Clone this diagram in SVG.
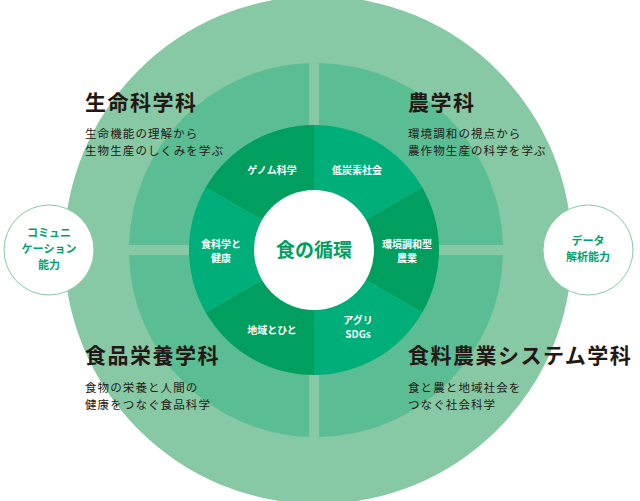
<svg xmlns="http://www.w3.org/2000/svg" width="640" height="501" viewBox="0 0 640 501">
<style>
.h{font-family:"Noto Sans CJK JP",sans-serif;font-weight:700;font-size:21px;fill:#231815;letter-spacing:1.5px}
.d{font-family:"Noto Sans CJK JP",sans-serif;font-size:11.5px;fill:#231815;letter-spacing:1.1px}
.s{font-family:"Noto Sans CJK JP",sans-serif;font-weight:700;font-size:10px;fill:#fff;text-anchor:middle}
.c{font-family:"Noto Sans CJK JP",sans-serif;font-weight:700;font-size:11px;fill:#00a06a;text-anchor:middle}
.dk{fill:#009e5f}.lt{fill:#00ae7a}
</style>
<g id="outer"><circle cx="318" cy="250" r="254" fill="#86c9a4"/></g>
<g id="quadrants" fill="#5bbd93">
<path d="M309 63 A187 187 0 0 0 129 245 L309 245 Z"/>
<path d="M319 63 A187 187 0 0 1 503 245 L319 245 Z"/>
<path d="M309 437 A187 187 0 0 1 129 255 L309 255 Z"/>
<path d="M319 437 A187 187 0 0 0 503 255 L319 255 Z"/>
</g>
<g id="ring">
<path class="dk" d="M314 250 L314 125 A125 125 0 0 0 205.7 187.5 Z"/>
<path class="lt" d="M314 250 L314 125 A125 125 0 0 1 422.3 187.5 Z"/>
<path class="dk" d="M314 250 L422.3 187.5 A125 125 0 0 1 422.3 312.5 Z"/>
<path class="lt" d="M314 250 L422.3 312.5 A125 125 0 0 1 314 375 Z"/>
<path class="dk" d="M314 250 L314 375 A125 125 0 0 1 205.7 312.5 Z"/>
<path class="lt" d="M314 250 L205.7 312.5 A125 125 0 0 1 205.7 187.5 Z"/>
</g>
<g id="center"><circle cx="314" cy="250" r="60" fill="#fff"/>
<text x="314" y="257" text-anchor="middle" style="font-family:'Noto Sans CJK JP',sans-serif;font-weight:700;font-size:19px;fill:#009e5f">食の循環</text></g>
<g id="seg-labels">
<text class="s" x="272" y="174">ゲノム科学</text>
<text class="s" x="357" y="174">低炭素社会</text>
<text class="s" x="407" y="248">環境調和型</text>
<text class="s" x="407" y="262">農業</text>
<text class="s" x="358" y="324">アグリ</text>
<text class="s" x="358" y="338">SDGs</text>
<text class="s" x="272" y="334">地域とひと</text>
<text class="s" x="221" y="248">食科学と</text>
<text class="s" x="221" y="262">健康</text>
</g>
<g id="left-skill"><circle cx="49" cy="250" r="45" fill="#fff" stroke="#86c9a4" stroke-width="1"/>
<text class="c" x="49" y="237">コミュニ</text><text class="c" x="49" y="253">ケーション</text><text class="c" x="49" y="269">能力</text></g>
<g id="right-skill"><circle cx="588" cy="250" r="45" fill="#fff" stroke="#86c9a4" stroke-width="1"/>
<text class="c" x="588" y="245">データ</text><text class="c" x="588" y="261">解析能力</text></g>
<g id="dept1"><text class="h" x="85" y="110">生命科学科</text>
<text class="d" x="85" y="138">生命機能の理解から</text><text class="d" x="85" y="155">生物生産のしくみを学ぶ</text></g>
<g id="dept2"><text class="h" x="408" y="110">農学科</text>
<text class="d" x="408" y="138">環境調和の視点から</text><text class="d" x="408" y="155">農作物生産の科学を学ぶ</text></g>
<g id="dept3"><text class="h" x="85" y="363">食品栄養学科</text>
<text class="d" x="85" y="392">食物の栄養と人間の</text><text class="d" x="85" y="409">健康をつなぐ食品科学</text></g>
<g id="dept4"><text class="h" x="408" y="363">食料農業システム学科</text>
<text class="d" x="408" y="392">食と農と地域社会を</text><text class="d" x="408" y="409">つなぐ社会科学</text></g>
<g id="connectors"/>
</svg>
